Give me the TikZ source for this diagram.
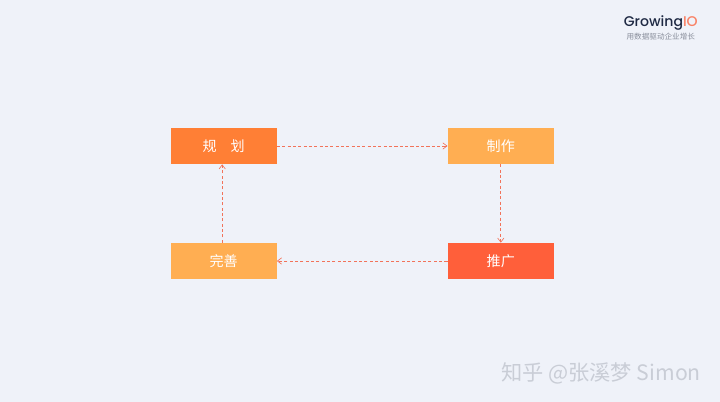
\documentclass[tikz,border=0pt]{standalone}
\usepackage{fontspec}
\setmainfont{Noto Sans CJK SC}
\newfontfamily\logofont{Poppins Medium}
\usepackage{xcolor}
\usepackage{tikz}
\usetikzlibrary{arrows.meta,positioning}
\definecolor{paper}{HTML}{EFF2F9}
\definecolor{deep}{HTML}{FF7F35}
\definecolor{soft}{HTML}{FFAE52}
\definecolor{hot}{HTML}{FF5F3A}
\definecolor{link}{HTML}{F2735A}
\definecolor{ink}{HTML}{1F2A44}
\definecolor{accent}{HTML}{F98266}
\definecolor{tagline}{HTML}{8A8F9C}
\definecolor{mark}{HTML}{C9CDD6}
\tikzset{
  box/.style={minimum width=2.65cm, minimum height=0.9cm, inner sep=0pt, text=white, font=\fontsize{10}{12}\selectfont},
  flow/.style={draw=link, line width=0.45pt, dash pattern=on 2.2pt off 1.6pt, -{Straight Barb[length=3pt,width=4.5pt]}},
  wm/.style={text=mark, font=\fontsize{15.1}{17}\selectfont, inner sep=0pt}
}
\begin{document}
\begin{tikzpicture}
  \useasboundingbox (0,0) rectangle (18,10.05);
  \fill[paper] (0,0) rectangle (18,10.05);

  \node[box, fill=deep] (plan) at (5.59,6.4) {规\hspace{1em}划};
  \node[box, fill=soft] (make) at (12.52,6.4) {制作};
  \node[box, fill=hot] (push) at (12.52,3.525) {推广};
  \node[box, fill=soft] (tune) at (5.59,3.525) {完善};

  \draw[flow] (plan) -- (make);
  \draw[flow] (make) -- (push);
  \draw[flow] (push) -- (tune);
  \draw[flow] ([xshift=-1pt]tune.north) -- ([xshift=-1pt]plan.south);

  \node[inner sep=0pt, text=ink, font=\logofont\fontsize{10}{12}\selectfont] (logo) at (16.52,9.47) {Growing\textcolor{accent}{IO}};
  \node[inner sep=0pt, text=tagline, font=\fontsize{5.4}{6}\selectfont, below=1.5pt of logo] (slogan) {用数据驱动企业增长};

  \node[wm, anchor=east] (sign) at (17.53,0.72) {知乎 @张溪梦 Simon};
\end{tikzpicture}
\end{document}
